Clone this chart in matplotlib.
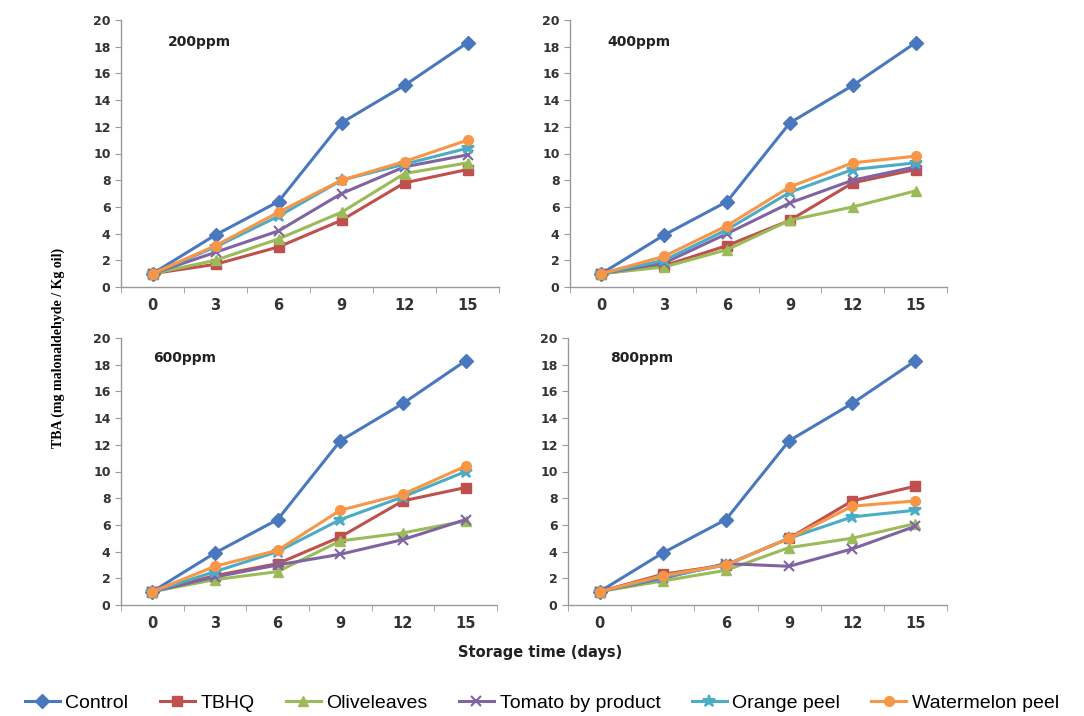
import numpy as np
import matplotlib
matplotlib.use("Agg")
import matplotlib.pyplot as plt

days = ["0", "3", "6", "9", "12", "15"]
series = ["Control", "TBHQ", "Oliveleaves", "Tomato by product", "Orange peel", "Watermelon peel"]
colors = ["#4A78BE", "#C0504D", "#9BBB59", "#8064A2", "#4BACC6", "#F79646"]
markers = ["D", "s", "^", "x", "*", "o"]

control = [1.0, 3.9, 6.4, 12.3, 15.1, 18.3]

ppm200 = [control,
          [1.0, 1.7, 3.0, 5.0, 7.8, 8.8],
          [1.0, 2.0, 3.6, 5.6, 8.5, 9.3],
          [1.0, 2.6, 4.2, 7.0, 9.0, 9.9],
          [1.0, 3.0, 5.3, 8.0, 9.2, 10.4],
          [1.0, 3.1, 5.6, 8.0, 9.4, 11.0]]
ppm400 = [control,
          [1.0, 1.6, 3.1, 5.0, 7.8, 8.8],
          [1.0, 1.5, 2.8, 5.0, 6.0, 7.2],
          [1.0, 1.8, 4.0, 6.3, 8.0, 9.0],
          [1.0, 2.0, 4.3, 7.1, 8.8, 9.3],
          [1.0, 2.3, 4.6, 7.5, 9.3, 9.8]]
ppm600 = [control,
          [1.0, 2.2, 3.1, 5.1, 7.8, 8.8],
          [1.0, 1.9, 2.5, 4.8, 5.4, 6.3],
          [1.0, 2.1, 3.0, 3.8, 4.9, 6.4],
          [1.0, 2.5, 4.0, 6.4, 8.1, 10.0],
          [1.0, 2.9, 4.1, 7.1, 8.3, 10.4]]
ppm800 = [control,
          [1.0, 2.3, 3.0, 5.0, 7.8, 8.9],
          [1.0, 1.8, 2.6, 4.3, 5.0, 6.1],
          [1.0, 2.0, 3.1, 2.9, 4.2, 5.9],
          [1.0, 2.1, 3.0, 5.0, 6.6, 7.1],
          [1.0, 2.2, 3.0, 5.0, 7.4, 7.8]]

panels = [
    ("200ppm", ppm200, days, [121, 499, 20, 287], (0.124, 0.918)),
    ("400ppm", ppm400, days, [570, 947, 20, 287], (0.098, 0.918)),
    ("600ppm", ppm600, days, [121, 497, 338, 605], (0.085, 0.925)),
    ("800ppm", ppm800, ["0", "", "6", "9", "12", "15"], [568, 947, 338, 605], (0.11, 0.925)),
]

W, H = 1084, 716
fig = plt.figure(figsize=(W / 100, H / 100), dpi=100)
fig.patch.set_facecolor("white")

handles = []
for label, data, xt, (x0, x1, y0, y1), tpos in panels:
    ax = fig.add_axes([x0 / W, 1 - y1 / H, (x1 - x0) / W, (y1 - y0) / H])
    x = np.arange(len(days))
    hs = []
    for vals, name, c, m in zip(data, series, colors, markers):
        ms = 9 if m == "*" else 7
        mew = 1.5 if m in ("x", "*") else 1
        h, = ax.plot(x, vals, color=c, marker=m, markersize=ms, lw=2.2,
                     markeredgewidth=mew, label=name)
        hs.append(h)
    handles = hs
    ax.set_xlim(-0.5, 5.5)
    ax.set_ylim(0, 20)
    ax.set_yticks(range(0, 21, 2))
    ax.set_xticks(x)
    ax.set_xticklabels(xt)
    ax.set_xticks(np.arange(-0.5, 6, 1), minor=True)
    ax.tick_params(axis="x", which="major", length=0, pad=8, labelsize=10.5, colors="#333333")
    ax.tick_params(axis="x", which="minor", length=4, direction="out", color="#999999")
    ax.tick_params(axis="y", length=4, direction="out", color="#999999", labelsize=9, colors="#333333")
    for t in ax.get_xticklabels() + ax.get_yticklabels():
        t.set_fontweight("bold")
        t.set_color("#333333")
    for s in ["top", "right"]:
        ax.spines[s].set_visible(False)
    for s in ["left", "bottom"]:
        ax.spines[s].set_color("#999999")
        ax.spines[s].set_linewidth(1.0)
    ax.text(tpos[0], tpos[1], label, transform=ax.transAxes, fontsize=10,
            fontweight="bold", color="#222222", va="center", ha="left")

fig.text(58 / W, 1 - 348 / H, "TBA (mg malonaldehyde / Kg oil)", rotation=90,
         family="Liberation Serif", fontweight="bold", fontsize=10, ha="center", va="center")
fig.text(540 / W, 1 - 653 / H, "Storage time (days)", fontsize=10.5,
         fontweight="bold", ha="center", va="center", color="#222222")

fig.legend(handles, series, loc="center", bbox_to_anchor=(0.5, 1 - 703 / H), ncol=6,
           frameon=False, handlelength=1.8, columnspacing=1.6,
           handletextpad=0.3, prop={"family": "Liberation Sans", "size": 14})

fig.savefig("out.png", dpi=100)
